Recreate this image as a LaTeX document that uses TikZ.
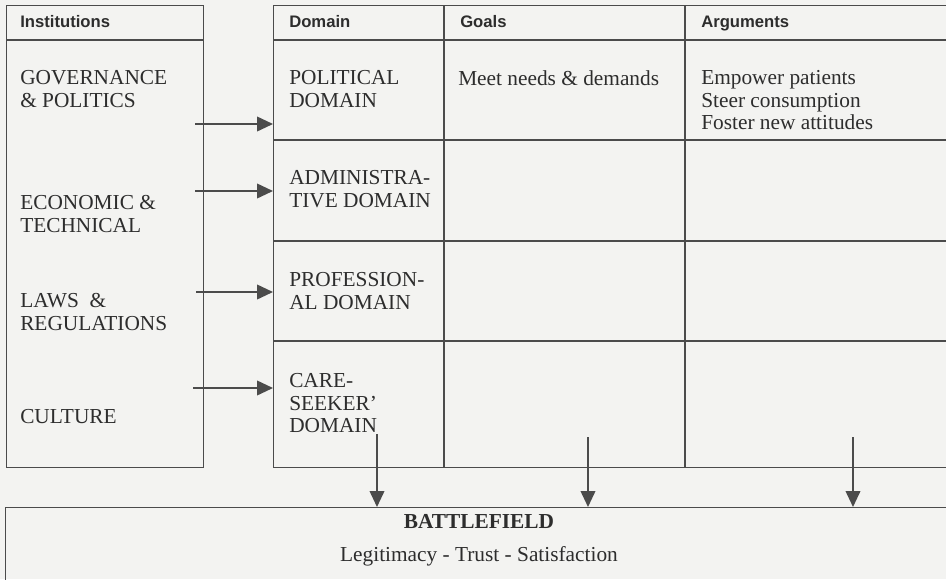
\documentclass[tikz,border=0pt]{standalone}
\usepackage{fontspec}
\setmainfont{Liberation Serif}
\setsansfont{Liberation Sans}
\usetikzlibrary{arrows.meta,positioning}
\definecolor{paper}{RGB}{243,243,241}
\definecolor{ink}{RGB}{75,75,75}
\definecolor{print}{RGB}{45,45,45}
\tikzstyle{box}=[draw=ink,line width=1.1pt,anchor=north west,inner sep=0pt]
\tikzstyle{rule}=[draw=ink,line width=1.1pt]
\tikzstyle{head}=[anchor=base west,inner sep=0pt,text=print,font=\sffamily\bfseries\fontsize{12.5}{14}\selectfont]
\tikzstyle{entry}=[anchor=north west,inner sep=0pt,align=left,text=print,font=\fontsize{16}{17}\selectfont]
\tikzstyle{link}=[draw=ink,line width=1.3pt,-{Triangle[length=12pt,width=11pt]}]

\begin{document}
\begin{tikzpicture}[x=0.75pt,y=-0.75pt]
\fill[paper] (0,0) rectangle (946,579);
\useasboundingbox (0,0) rectangle (946,579);

% frames
\node[box,minimum width=147.75pt,minimum height=346.5pt] (inst) at (6,5) {};
\node[box,minimum width=508.5pt,minimum height=346.5pt] (tab) at (273,5) {};
\node[box,minimum width=709.5pt,minimum height=69.75pt] (bf) at (5,507) {};

% table rules
\draw[rule] (inst.west |- 0,40) -- (inst.east |- 0,40);
\foreach \y in {40,140,241,341}
  \draw[rule] (tab.west |- 0,\y) -- (tab.east |- 0,\y);
\foreach \x in {444,685}
  \draw[rule] (tab.north -| \x,0) -- (tab.south -| \x,0);

% headers
\node[head] (hinst) at (20,27) {Institutions};
\node[head] (hdom) at (289,27) {Domain};
\node[head] (hgoal) at (460,27) {Goals};
\node[head] (harg) at (701,27) {Arguments};

% institutions
\node[entry] (gov) at (20,70) {GOVERNANCE\\\& POLITICS};
\node[entry] (eco) at (20,195) {ECONOMIC \&\\TECHNICAL};
\node[entry] (law) at (20,293) {LAWS \ \&\\REGULATIONS};
\node[entry] (cul) at (20,409) {CULTURE};

% domains
\node[entry] (pol) at (289,70) {POLITICAL\\DOMAIN};
\node[entry] (adm) at (289,170) {ADMINISTRA-\\TIVE DOMAIN};
\node[entry] (pro) at (289,272) {PROFESSION-\\AL DOMAIN};
\node[entry] (care) at (289,373) {CARE-\\SEEKER'\\DOMAIN};

\node[entry] (goal) at (458,70) {Meet needs \& demands};
\node[entry] (arg) at (701,70) {Empower patients\\Steer consumption\\Foster new attitudes};

% battlefield
\node[text=print,font=\bfseries\fontsize{16}{18}\selectfont] (bft) at (479,521) {BATTLEFIELD};
\node[text=print,font=\fontsize{16}{18}\selectfont] (lts) at (479,556) {Legitimacy - Trust - Satisfaction};

% arrows
\coordinate (a1) at (195,124);
\coordinate (a2) at (195,191);
\coordinate (a3) at (196,292);
\coordinate (a4) at (193,388);
\foreach \a in {a1,a2,a3,a4}
  \draw[link] (\a) -- (\a -| tab.west);
\coordinate (d1) at (377,434);
\coordinate (d2) at (588,437);
\coordinate (d3) at (853,437);
\foreach \d in {d1,d2,d3}
  \draw[link] (\d) -- (\d |- bf.north);
\end{tikzpicture}
\end{document}
